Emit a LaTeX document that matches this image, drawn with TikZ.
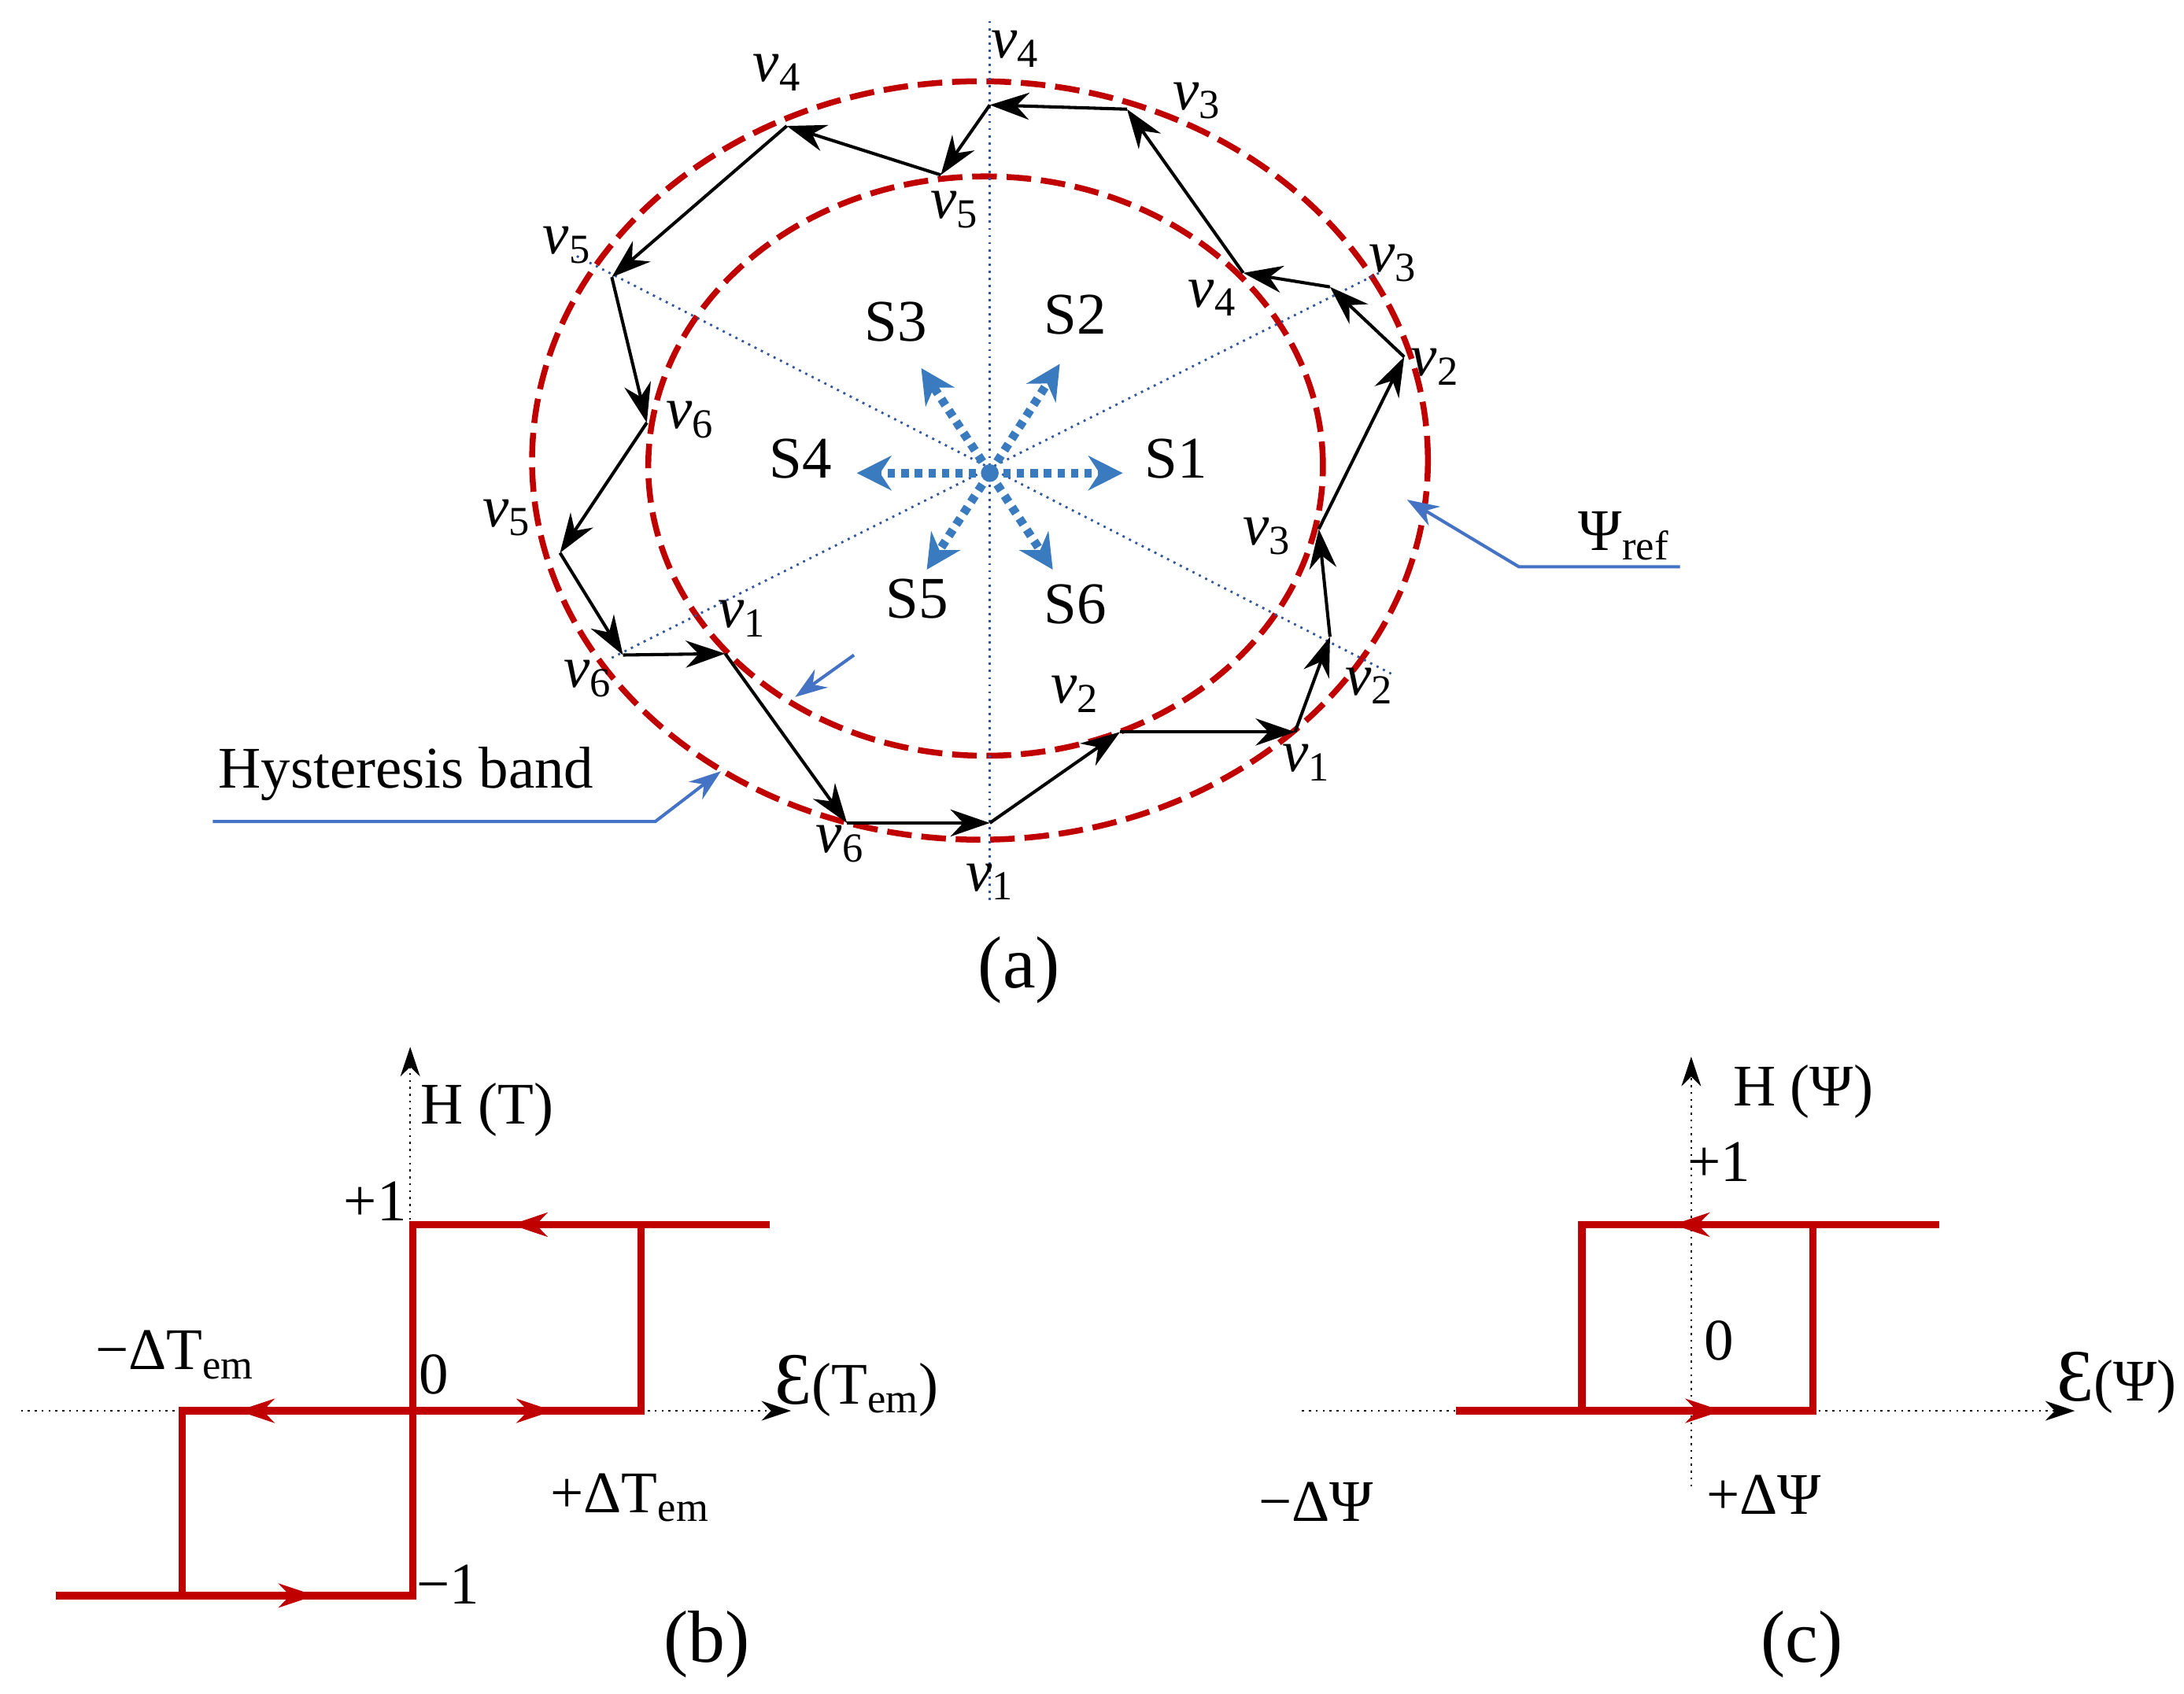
\documentclass[tikz,border=0pt]{standalone}
\usepackage{fontspec}
\setmainfont{Liberation Serif}
\usetikzlibrary{arrows.meta}
\definecolor{dred}{HTML}{C00000}
\definecolor{lblue}{HTML}{3A7BC0}
\definecolor{dblue}{HTML}{2F55A0}
\definecolor{pblue}{HTML}{4472C4}
\begin{document}
\begin{tikzpicture}[x=0.02cm,y=-0.02cm,
  lab/.style={font=\fontsize{24}{26}\selectfont, inner sep=0pt},
  vl/.style={font=\fontsize{24}{26}\selectfont\itshape, inner sep=0pt},
  vec/.style={black, line width=1.3pt, -{Stealth[length=16pt,width=11pt]}},
  band/.style={dred, line width=2.4pt, dash pattern=on 10pt off 4pt},
  ax/.style={dblue, line width=0.9pt, dotted},
  sv/.style={lblue, line width=3.5pt, dash pattern=on 3pt off 2.5pt, -{Stealth[length=14pt,width=14pt]}},
  pt/.style={pblue, line width=1.3pt},
  ptarr/.style={pt, -{Stealth[length=13pt,width=9pt]}},
  hax/.style={black, line width=0.8pt, dotted, -{Stealth[length=12pt,width=8pt]}},
  hyst/.style={dred, line width=3pt},
  harr/.style={dred, -{Stealth[length=15pt,width=10pt]}}]
\useasboundingbox (0,0) rectangle (1560,1210);
% ---------- (a)
\coordinate (c) at (707,338);
\draw[band] (700,329) ellipse [x radius=6.4cm, y radius=5.42cm];
\draw[band] (704,333) ellipse [x radius=4.82cm, y radius=4.14cm];
\coordinate (vt) at (707,15); \coordinate (vb) at (707,645);
\draw[ax] (vt) -- (vb);
\coordinate (d1a) at (412,183); \coordinate (d1b) at (995,482);
\coordinate (d2a) at (437,470); \coordinate (d2b) at (985,195);
\draw[ax] (d1a) -- (d1b);
\draw[ax] (d2a) -- (d2b);
% star
\draw[lblue, line width=1.5pt] (c) circle [radius=5];
\coordinate (s1) at (802,338); \coordinate (s4) at (612,338);
\coordinate (s2) at (757,260); \coordinate (s3) at (658,263);
\coordinate (s5) at (662,407); \coordinate (s6) at (752,407);
\foreach \s in {s1,s2,s3,s4,s5,s6} \draw[sv] (c) -- (\s);
\node[lab] (S3) at (640,230) {S3};
\node[lab] (S2) at (768,225) {S2};
\node[lab] (S4) at (572,328) {S4};
\node[lab] (S1) at (840,328) {S1};
\node[lab] (S5) at (655,428) {S5};
\node[lab] (S6) at (768,432) {S6};
% path
\coordinate (p0) at (707,588);
\coordinate (p1) at (800,523);
\coordinate (p2) at (925,523);
\coordinate (p3) at (950,455);
\coordinate (p4) at (942,378);
\coordinate (p5) at (1003,255);
\coordinate (p6) at (950,205);
\coordinate (p7) at (888,195);
\coordinate (p8) at (805,78);
\coordinate (p9) at (707,75);
\coordinate (p10) at (672,125);
\coordinate (p11) at (562,90);
\coordinate (p12) at (437,198);
\coordinate (p13) at (462,302);
\coordinate (p14) at (400,395);
\coordinate (p15) at (445,468);
\coordinate (p16) at (518,467);
\coordinate (p17) at (605,588);
\foreach \a/\b in {p0/p1,p1/p2,p2/p3,p3/p4,p4/p5,p5/p6,p6/p7,p7/p8,p8/p9,p9/p10,p10/p11,p11/p12,p12/p13,p13/p14,p14/p15,p15/p16,p16/p17,p17/p0}
  \draw[vec] (\a) -- (\b);
\node[vl] at (768,496) {v\textsubscript{\upshape 2}};
\node[vl] at (933,545) {v\textsubscript{\upshape 1}};
\node[vl] at (978,490) {v\textsubscript{\upshape 2}};
\node[vl] at (905,383) {v\textsubscript{\upshape 3}};
\node[vl] at (1025,262) {v\textsubscript{\upshape 2}};
\node[vl] at (995,188) {v\textsubscript{\upshape 3}};
\node[vl] at (866,213) {v\textsubscript{\upshape 4}};
\node[vl] at (855,72) {v\textsubscript{\upshape 3}};
\node[vl] at (725,35) {v\textsubscript{\upshape 4}};
\node[vl] at (682,150) {v\textsubscript{\upshape 5}};
\node[vl] at (555,52) {v\textsubscript{\upshape 4}};
\node[vl] at (405,175) {v\textsubscript{\upshape 5}};
\node[vl] at (493,300) {v\textsubscript{\upshape 6}};
\node[vl] at (362,370) {v\textsubscript{\upshape 5}};
\node[vl] at (420,485) {v\textsubscript{\upshape 6}};
\node[vl] at (530,442) {v\textsubscript{\upshape 1}};
\node[vl] at (600,603) {v\textsubscript{\upshape 6}};
\node[vl] at (707,630) {v\textsubscript{\upshape 1}};
% pointers
\node[lab] (psi) at (1160,383) {Ψ\textsubscript{ref}};
\coordinate (q1) at (1200,405); \coordinate (q2) at (1085,405); \coordinate (q3) at (1005,357);
\draw[ptarr] (q1) -- (q2) -- (q3);
\node[lab] (hb) at (290,553) {Hysteresis band};
\coordinate (h1) at (152,587); \coordinate (h2) at (468,587); \coordinate (h3) at (515,551);
\draw[ptarr] (h1) -- (h2) -- (h3);
\coordinate (m1) at (610,468); \coordinate (m2) at (568,498);
\draw[ptarr] (m1) -- (m2);
\node[lab, font=\fontsize{30}{32}\selectfont] at (728,693) {(a)};
% ---------- (b)
\coordinate (bv0) at (293,1142); \coordinate (bv1) at (293,748);
\draw[hax] (bv0) -- (bv1);
\coordinate (bh0) at (15,1008); \coordinate (bh1) at (565,1008);
\draw[hax] (bh0) -- (bh1);
\draw[hyst] (40,1140) -- (295,1140) -- (295,875) -- (550,875);
\draw[hyst] (130,1140) -- (130,1008) -- (458,1008) -- (458,875);
\draw[harr] (190,1140) -- (225,1140);
\draw[harr] (360,1008) -- (395,1008);
\draw[harr] (205,1008) -- (170,1008);
\draw[harr] (400,875) -- (365,875);
\node[lab] at (348,793) {H (T)};
\node[lab] at (612,990) {{\fontsize{30}{32}\selectfont Ɛ}(T\textsubscript{em})};
\node[lab] at (268,858) {+1};
\node[lab] at (310,982) {0};
\node[lab] at (320,1132) {−1};
\node[lab] at (125,968) {−ΔT\textsubscript{em}};
\node[lab] at (450,1070) {+ΔT\textsubscript{em}};
\node[lab, font=\fontsize{30}{32}\selectfont] at (505,1175) {(b)};
% ---------- (c)
\coordinate (cv0) at (1208,1062); \coordinate (cv1) at (1208,755);
\draw[hax] (cv0) -- (cv1);
\coordinate (ch0) at (930,1008); \coordinate (ch1) at (1482,1008);
\draw[hax] (ch0) -- (ch1);
\draw[hyst] (1040,1008) -- (1295,1008) -- (1295,875);
\draw[hyst] (1130,1008) -- (1130,875) -- (1385,875);
\draw[harr] (1200,1008) -- (1230,1008);
\draw[harr] (1225,875) -- (1195,875);
\node[lab] at (1288,780) {H (Ψ)};
\node[lab] at (1512,988) {{\fontsize{30}{32}\selectfont Ɛ}(Ψ)};
\node[lab] at (1228,830) {+1};
\node[lab] at (1228,958) {0};
\node[lab] at (940,1073) {−ΔΨ};
\node[lab] at (1260,1068) {+ΔΨ};
\node[lab, font=\fontsize{30}{32}\selectfont] at (1287,1175) {(c)};
\end{tikzpicture}
\end{document}
